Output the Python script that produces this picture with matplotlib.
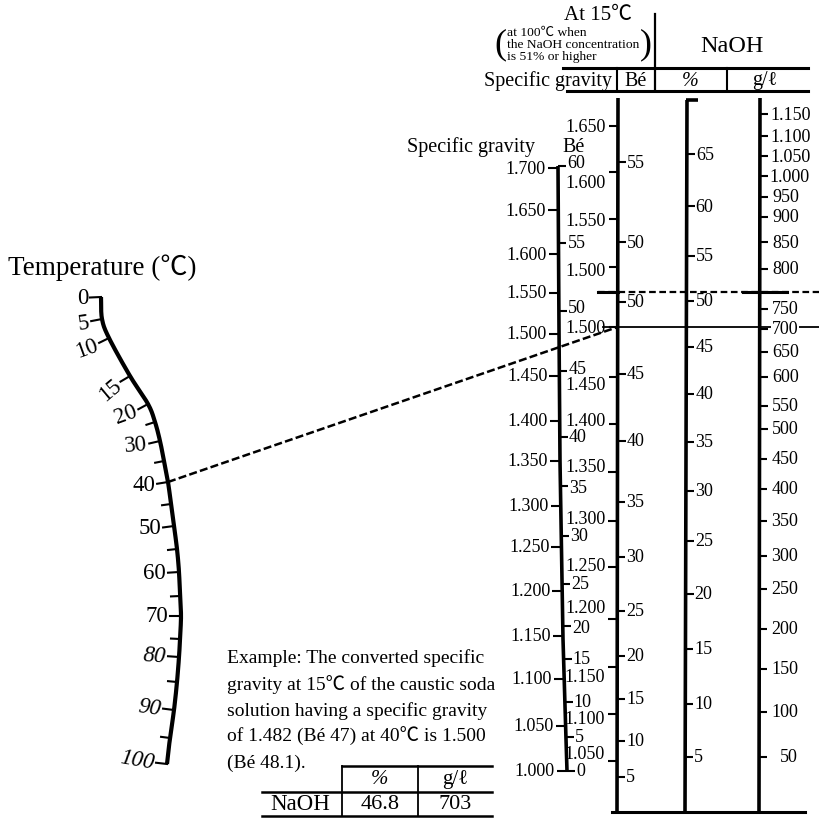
"""
Nomogram: conversion of caustic soda specific gravity to 15 C,
with NaOH % and g/l read-off scales.
"""

import numpy as np
import matplotlib
matplotlib.use("Agg")
import matplotlib.pyplot as plt

plt.rcParams["font.family"] = ["Liberation Serif", "Noto Sans CJK JP", "DejaVu Sans"]

# ─────────────────────────────────────────────────────────────
# Scale values
# ─────────────────────────────────────────────────────────────
TEMP_MAJOR = [0, 5, 10, 15, 20, 30, 40, 50, 60, 70, 80, 90, 100]
TEMP_MINOR = [25, 35, 45, 55, 65, 75, 85, 95]

SG_T = [1.000, 1.050, 1.100, 1.150, 1.200, 1.250, 1.300, 1.350,
        1.400, 1.450, 1.500, 1.550, 1.600, 1.650, 1.700]
BE_T = [0, 5, 10, 15, 20, 25, 30, 35, 40, 45, 50, 55, 60]

SG15_LOW = [1.050, 1.100, 1.150, 1.200, 1.250, 1.300, 1.350, 1.400, 1.450, 1.500]
BE15_LOW = [5, 10, 15, 20, 25, 30, 35, 40, 45, 50]
SG100_UP = [1.500, 1.550, 1.600, 1.650]
BE100_UP = [50, 55]

PCT_LOW = [5, 10, 15, 20, 25, 30, 35, 40, 45, 50]
PCT_UP = [55, 60, 65]

GPL = [50, 100, 150, 200, 250, 300, 350, 400, 450, 500, 550, 600,
       650, 700, 750, 800, 850, 900, 950, 1000, 1050, 1100, 1150]

PCT_SWITCH = 51          # above this the 100 C scales apply

EX_TEMP = 40
EX_SG15 = 1.500
EX_LINES = ["Example: The converted specific",
            "gravity at 15℃ of the caustic soda",
            "solution having a specific gravity",
            "of 1.482 (Bé 47) at 40℃ is 1.500",
            "(Bé 48.1)."]
TABLE_COLS = ["%", "g/ℓ"]
TABLE_ROW = "NaOH"
TABLE_VALS = ["46.8", "703"]

# ─────────────────────────────────────────────────────────────
# Layout (pixel frame, y down) – scale calibration
# ─────────────────────────────────────────────────────────────
T_CAL = [0, 5, 10, 15, 20, 25, 30, 35, 40, 45, 50, 55, 60, 65, 70, 75, 80, 85, 90, 95, 100]
T_X = [101, 102, 109, 130, 148, 155, 160, 164, 168, 171, 174, 177, 179, 180, 181, 180,
       179, 177, 174, 170, 167]
T_Y = [298, 320, 339, 377, 405, 423, 442, 462, 483, 505, 527, 550, 573, 597, 617, 640,
       658, 683, 711, 739, 765]
T_ROT = [0, 8, 20, 40, 20, 5, 0, 0, 0, 0, -4, -8, -10]

A_PATH_Y = [167, 330, 462, 640, 740, 772]
A_PATH_X = [558, 559, 560, 563, 566, 567]
Y_SG_T = [772, 727, 680, 637, 592, 548, 507, 462, 422, 377, 335, 294, 255, 211, 169]
Y_BE_T = [772, 738, 703, 660, 627, 585, 537, 487, 438, 372, 312, 244, 167]
DY_BE_T = [0, 0, 0, 0, 2, 0, 0, 2, 0, -2, -3, 0, -3]

B_X = (618, 617)
Y_SG15_LOW = [762, 715, 668, 620, 568, 522, 473, 425, 378, 328]
DY_SG15_LOW = [-7, 5, 10, -11, -1, -2, -5, -3, 8, 1]
Y_BE15_LOW = [778, 742, 700, 657, 612, 558, 503, 442, 375, 303]
Y_SG100_UP = [268, 220, 173, 127]
DY_SG100_UP = [4, 2, 10, 0]
Y_BE100_UP = [243, 163]

C_X = (687, 685)
Y_PCT_LOW = [758, 705, 650, 595, 542, 492, 443, 395, 348, 302]
Y_PCT_UP = [257, 207, 155]

D_X = (760, 759)
Y_GPL = [758, 713, 670, 630, 590, 557, 522, 490, 460, 430, 407, 378, 353, 330,
         310, 270, 243, 218, 198, 177, 157, 137, 115]

TOP_Y, BOT_Y = 99, 813
AX_LW, TICK_LW = 2.6, 1.5
TICK_FS = 13


def straight_x(xs, y):
    return xs[0] + (xs[1] - xs[0]) * (y - TOP_Y) / (BOT_Y - TOP_Y)


def catmull(px, py, n=20):
    px, py = np.asarray(px, float), np.asarray(py, float)
    P = np.column_stack([px, py])
    P = np.vstack([P[0] * 2 - P[1], P, P[-1] * 2 - P[-2]])
    out = []
    for i in range(1, len(P) - 2):
        p0, p1, p2, p3 = P[i - 1], P[i], P[i + 1], P[i + 2]
        for t in np.linspace(0, 1, n, endpoint=False):
            out.append(0.5 * ((2 * p1) + (-p0 + p2) * t
                              + (2 * p0 - 5 * p1 + 4 * p2 - p3) * t ** 2
                              + (-p0 + 3 * p1 - 3 * p2 + p3) * t ** 3))
    out.append(P[-2])
    return np.array(out)


def temp_pos(t):
    return np.interp(t, T_CAL, T_X), np.interp(t, T_CAL, T_Y)


def temp_normal(t):
    x0, y0 = temp_pos(max(t - 2, 0))
    x1, y1 = temp_pos(min(t + 2, 100))
    dx, dy = x1 - x0, y1 - y0
    n = np.hypot(dx, dy)
    return -dy / n, dx / n


def tick(ax, x, y, side, length=9, lw=TICK_LW):
    ax.plot([x, x + side * length], [y, y], color="black", lw=lw,
            solid_capstyle="butt", zorder=3)


def label(ax, x, y, s, ha, fs=TICK_FS, **kw):
    ax.text(x, y, s, ha=ha, va="center", fontsize=fs, zorder=4, **kw)


fig = plt.figure(figsize=(8.2, 8.2), dpi=100)
ax = fig.add_axes([0, 0, 1, 1])
ax.set_xlim(0, 820)
ax.set_ylim(820, 0)
ax.axis("off")

# ── temperature scale ──
curve = catmull(T_X, T_Y)
ax.plot(curve[:, 0], curve[:, 1], color="black", lw=3.0, solid_capstyle="butt")
for t in TEMP_MINOR:
    x, y = temp_pos(t)
    nx, ny = temp_normal(t)
    ax.plot([x, x + nx * 9], [y, y + ny * 9], color="black", lw=TICK_LW)
for t, rot in zip(TEMP_MAJOR, T_ROT):
    x, y = temp_pos(t)
    nx, ny = temp_normal(t)
    ax.plot([x, x + nx * 11], [y, y + ny * 11], color="black", lw=TICK_LW)
    ax.text(x + nx * 13, y + ny * 13, str(t), ha="right", va="center",
            fontsize=16.5, rotation=rot, rotation_mode="anchor",
            fontstyle="italic" if t >= 80 else "normal")
ax.text(8, 268, "Temperature (℃)", ha="left", va="center", fontsize=19.5)

# ── axis A: specific gravity / Bé at temperature ──
ax.plot(A_PATH_X, A_PATH_Y, color="black", lw=AX_LW, solid_capstyle="butt")
for v, y in zip(SG_T, Y_SG_T):
    x = np.interp(y, A_PATH_Y, A_PATH_X)
    tick(ax, x, y, -1, 10)
    label(ax, x - 12, y, f"{v:.3f}", "right")
for v, y, dy in zip(BE_T, Y_BE_T, DY_BE_T):
    x = np.interp(y, A_PATH_Y, A_PATH_X)
    tick(ax, x, y, 1, 8)
    label(ax, x + 9, y + dy, str(v), "left")
ax.text(535, 147, "Specific gravity", ha="right", va="center", fontsize=14.5)
ax.text(574, 147, "Bé", ha="center", va="center", fontsize=14.5)

# ── axis B: specific gravity / Bé at 15 C ──
ax.plot(B_X, [TOP_Y, BOT_Y], color="black", lw=AX_LW, solid_capstyle="butt")
for vals, ys, dys in [(SG15_LOW, Y_SG15_LOW, DY_SG15_LOW),
                      (SG100_UP, Y_SG100_UP, DY_SG100_UP)]:
    for v, y, dy in zip(vals, ys, dys):
        x = straight_x(B_X, y)
        tick(ax, x, y, -1, 9)
        label(ax, x - 12, y + dy, f"{v:.3f}", "right")
for vals, ys in [(BE15_LOW, Y_BE15_LOW), (BE100_UP, Y_BE100_UP)]:
    for v, y in zip(vals, ys):
        x = straight_x(B_X, y)
        tick(ax, x, y, 1, 8)
        label(ax, x + 9, y, str(v), "left")

# ── axis C: NaOH % ──
ax.plot(C_X, [TOP_Y + 2, BOT_Y], color="black", lw=AX_LW, solid_capstyle="butt")
tick(ax, C_X[0] - 1, TOP_Y + 2, 1, 12, lw=AX_LW)
for vals, ys in [(PCT_LOW, Y_PCT_LOW), (PCT_UP, Y_PCT_UP)]:
    for v, y in zip(vals, ys):
        x = straight_x(C_X, y)
        tick(ax, x, y, 1, 8)
        label(ax, x + 9, y, str(v), "left")

# ── axis D: NaOH g/l ──
ax.plot(D_X, [TOP_Y, BOT_Y], color="black", lw=AX_LW, solid_capstyle="butt")
for v, y in zip(GPL, Y_GPL):
    x = straight_x(D_X, y)
    tick(ax, x, y, 1, 8)
    if v >= 1000:
        label(ax, x + 10, y, f"{v / 1000:.3f}", "left")
    else:
        label(ax, x + 39, y, str(v), "right",
              bbox=dict(facecolor="white", edgecolor="none", pad=0.5))

ax.plot([B_X[1] - 5, 805], [BOT_Y, BOT_Y], color="black", lw=2.2)

# ── boundary of the 100 C scales (51 % NaOH) ──
y_sw = Y_PCT_LOW[-1] + (Y_PCT_LOW[-1] - Y_PCT_LOW[-2]) / (PCT_LOW[-1] - PCT_LOW[-2]) * \
    (PCT_SWITCH - PCT_LOW[-1])
ax.plot([598, 820], [y_sw, y_sw], color="black", lw=1.6, dashes=[3, 1.6], zorder=2)
ax.plot([598, 618], [y_sw, y_sw], color="black", lw=2.2, zorder=2)
ax.plot([743, 787], [y_sw, y_sw], color="black", lw=2.2, zorder=2)

# ── worked example ──
y15 = np.interp(EX_SG15, SG15_LOW, Y_SG15_LOW)
xt, yt = temp_pos(EX_TEMP)
ax.plot([xt, straight_x(B_X, y15)], [yt, y15], color="black", lw=1.8,
        dashes=[3.2, 1.3], zorder=2)
ax.plot([603, 820], [y15, y15], color="black", lw=1.3, zorder=2)

for i, line in enumerate(EX_LINES):
    ax.text(227, 658 + i * 26.3, line, ha="left", va="center", fontsize=14)

ax.plot([342, 492], [767, 767], color="black", lw=1.8)
ax.plot([262, 492], [793, 793], color="black", lw=1.8)
ax.plot([262, 492], [817, 817], color="black", lw=1.8)
ax.plot([342, 342], [767, 817], color="black", lw=1.3)
ax.plot([418, 418], [767, 817], color="black", lw=1.3)
for xc, col, val in zip([380, 455], TABLE_COLS, TABLE_VALS):
    ax.text(xc, 780, col, ha="center", va="center", fontsize=15,
            fontstyle="italic" if col == "%" else "normal")
    ax.text(xc, 805, val, ha="center", va="center", fontsize=16)
ax.text(300, 805, TABLE_ROW, ha="center", va="center", fontsize=16.5)

# ── header ──
ax.text(598, 15, "At 15℃", ha="center", va="center", fontsize=15)
ax.text(500, 45, "(", ha="center", va="center", fontsize=26, fontweight="light")
ax.text(646, 45, ")", ha="center", va="center", fontsize=26, fontweight="light")
for i, s in enumerate(["at 100℃ when", "the NaOH concentration", "is 51% or higher"]):
    ax.text(507, 33 + i * 12, s, ha="left", va="center", fontsize=9.7)
ax.plot([655, 655], [15, 92], color="black", lw=1.6)
ax.text(732, 47, "NaOH", ha="center", va="center", fontsize=17.5)
ax.plot([563, 808], [69, 69], color="black", lw=2.2)
ax.plot([567, 808], [92, 92], color="black", lw=2.2)
for xv in [617, 727]:
    ax.plot([xv, xv], [69, 92], color="black", lw=1.5)
ax.text(612, 81, "Specific gravity", ha="right", va="center", fontsize=14.5)
ax.text(636, 81, "Bé", ha="center", va="center", fontsize=14.5)
ax.text(690, 81, "%", ha="center", va="center", fontsize=14.5, fontstyle="italic")
ax.text(765, 81, "g/ℓ", ha="center", va="center", fontsize=14.5)

fig.savefig("out.png", dpi=100, facecolor="white")
